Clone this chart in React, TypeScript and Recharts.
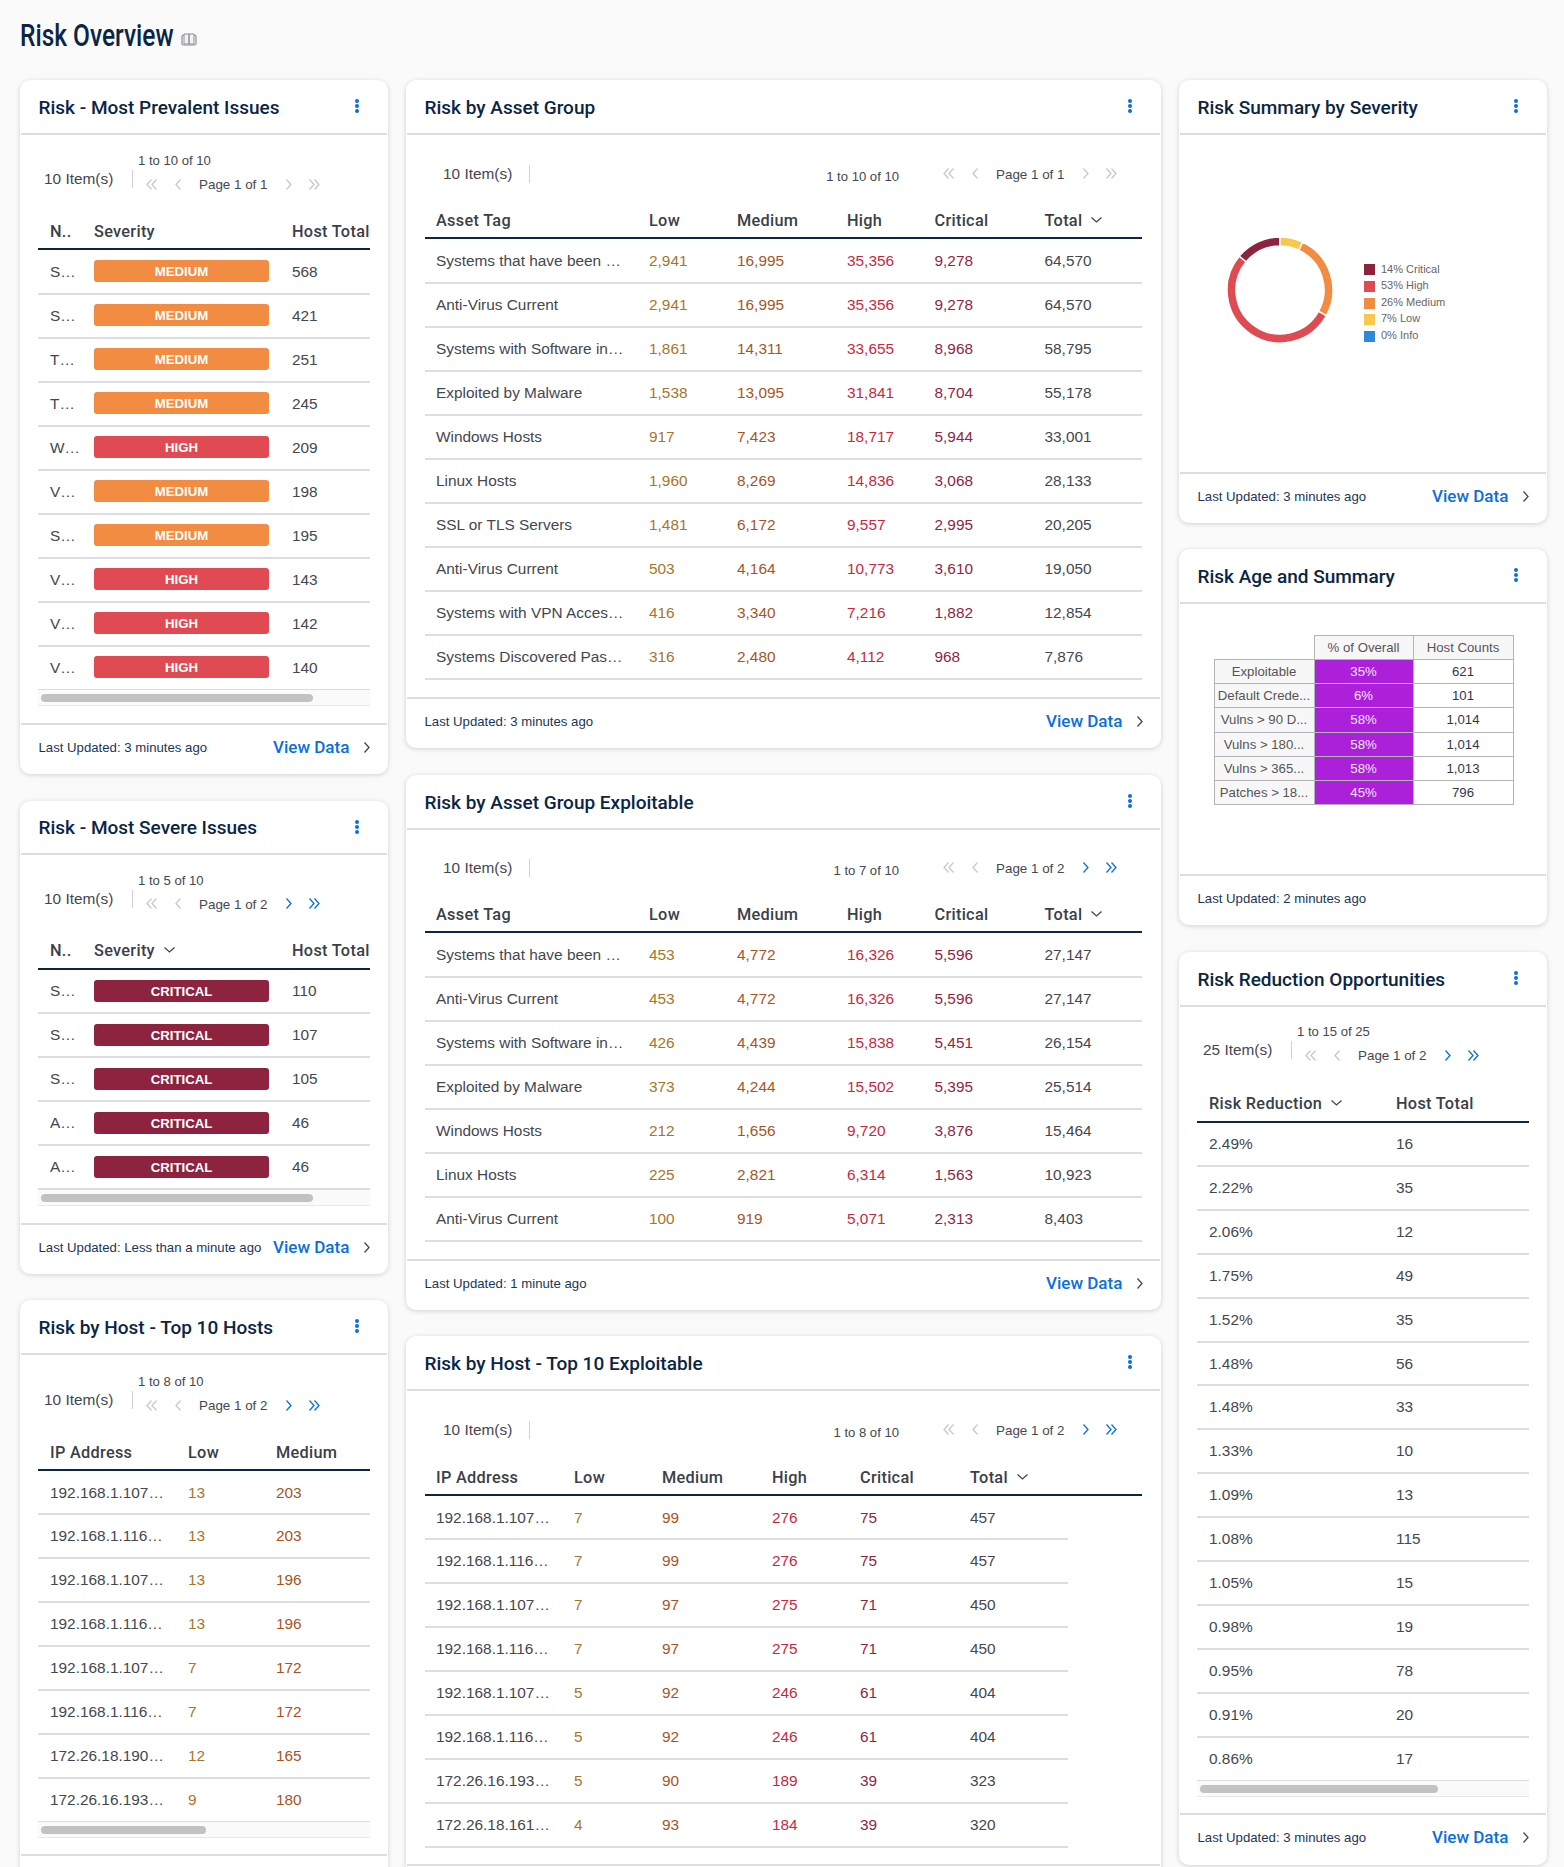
import React from "react";
import { PieChart, Pie, Legend } from "recharts";

// severity donut
const severityNames = ["Critical", "High", "Medium", "Low", "Info"];
const severityShares = [14, 53, 26, 7, 0];
const severityColors = ["#8e2340", "#e04b53", "#f28c42", "#f9c74f", "#2f88d8"];

// Risk - Most Prevalent Issues
const prevalentNames = ["S…", "S…", "T…", "T…", "W…", "V…", "S…", "V…", "V…", "V…"];
const prevalentSeverity = ["MEDIUM", "MEDIUM", "MEDIUM", "MEDIUM", "HIGH", "MEDIUM", "MEDIUM", "HIGH", "HIGH", "HIGH"];
const prevalentHosts = ["568", "421", "251", "245", "209", "198", "195", "143", "142", "140"];

// Risk - Most Severe Issues
const severeNames = ["S…", "S…", "S…", "A…", "A…"];
const severeSeverity = ["CRITICAL", "CRITICAL", "CRITICAL", "CRITICAL", "CRITICAL"];
const severeHosts = ["110", "107", "105", "46", "46"];

// Risk by Host - Top 10 Hosts
const hostIps = ["192.168.1.107…", "192.168.1.116…", "192.168.1.107…", "192.168.1.116…", "192.168.1.107…", "192.168.1.116…", "172.26.18.190…", "172.26.16.193…"];
const hostLow = ["13", "13", "13", "13", "7", "7", "12", "9"];
const hostMedium = ["203", "203", "196", "196", "172", "172", "165", "180"];

// Risk by Asset Group
const groupTags = ["Systems that have been …", "Anti-Virus Current", "Systems with Software in…", "Exploited by Malware", "Windows Hosts", "Linux Hosts", "SSL or TLS Servers", "Anti-Virus Current", "Systems with VPN Acces…", "Systems Discovered Pas…"];
const groupLow = ["2,941", "2,941", "1,861", "1,538", "917", "1,960", "1,481", "503", "416", "316"];
const groupMedium = ["16,995", "16,995", "14,311", "13,095", "7,423", "8,269", "6,172", "4,164", "3,340", "2,480"];
const groupHigh = ["35,356", "35,356", "33,655", "31,841", "18,717", "14,836", "9,557", "10,773", "7,216", "4,112"];
const groupCritical = ["9,278", "9,278", "8,968", "8,704", "5,944", "3,068", "2,995", "3,610", "1,882", "968"];
const groupTotal = ["64,570", "64,570", "58,795", "55,178", "33,001", "28,133", "20,205", "19,050", "12,854", "7,876"];

// Risk by Asset Group Exploitable
const exploitTags = ["Systems that have been …", "Anti-Virus Current", "Systems with Software in…", "Exploited by Malware", "Windows Hosts", "Linux Hosts", "Anti-Virus Current"];
const exploitLow = ["453", "453", "426", "373", "212", "225", "100"];
const exploitMedium = ["4,772", "4,772", "4,439", "4,244", "1,656", "2,821", "919"];
const exploitHigh = ["16,326", "16,326", "15,838", "15,502", "9,720", "6,314", "5,071"];
const exploitCritical = ["5,596", "5,596", "5,451", "5,395", "3,876", "1,563", "2,313"];
const exploitTotal = ["27,147", "27,147", "26,154", "25,514", "15,464", "10,923", "8,403"];

// Risk by Host - Top 10 Exploitable
const topIps = ["192.168.1.107…", "192.168.1.116…", "192.168.1.107…", "192.168.1.116…", "192.168.1.107…", "192.168.1.116…", "172.26.16.193…", "172.26.18.161…"];
const topLow = ["7", "7", "7", "7", "5", "5", "5", "4"];
const topMedium = ["99", "99", "97", "97", "92", "92", "90", "93"];
const topHigh = ["276", "276", "275", "275", "246", "246", "189", "184"];
const topCritical = ["75", "75", "71", "71", "61", "61", "39", "39"];
const topTotal = ["457", "457", "450", "450", "404", "404", "323", "320"];

// Risk Age and Summary
const ageLabels = ["Exploitable", "Default Crede...", "Vulns > 90 D...", "Vulns > 180...", "Vulns > 365...", "Patches > 18..."];
const agePercent = ["35%", "6%", "58%", "58%", "58%", "45%"];
const ageHosts = ["621", "101", "1,014", "1,014", "1,013", "796"];

// Risk Reduction Opportunities
const reductionShares = ["2.49%", "2.22%", "2.06%", "1.75%", "1.52%", "1.48%", "1.48%", "1.33%", "1.09%", "1.08%", "1.05%", "0.98%", "0.95%", "0.91%", "0.86%"];
const reductionHosts = ["16", "35", "12", "49", "35", "56", "33", "10", "13", "115", "15", "19", "78", "20", "17"];

const NAVY = "#0b2545";
const BODY = "#44474f";
const RULE = "#dcdce4";
const BLUE = "#0b6fdb";
const SANS = "'Liberation Sans', Arial, sans-serif";
const HEAD = "Roboto, sans-serif";
const LOW = "#a8752a";
const MEDIUM = "#a9541f";
const HIGH = "#c8283e";
const CRITICAL = "#92243f";
const badgeColors: Record<string, string> = { MEDIUM: "#f28c42", HIGH: "#e04b53", CRITICAL: "#8e2340" };

function T({ x, y, size = 15.4, color = BODY, font = SANS, weight = 400, spacing = 0, children }: any) {
  return (
    <span
      style={{
        position: "absolute",
        left: x,
        top: y,
        transform: "translateY(-50%)",
        whiteSpace: "nowrap",
        fontSize: size,
        color,
        fontFamily: font,
        fontWeight: weight,
        letterSpacing: spacing,
        lineHeight: 1.2,
      }}
    >
      {children}
    </span>
  );
}

function Rule({ x0, x1, y, color = RULE, h = 1.5 }: any) {
  return <div style={{ position: "absolute", left: x0, width: x1 - x0, top: Math.round(y), height: h, background: color }} />;
}

function Chevron({ x, y, dir = "right", color = "#44474f", double = false, size = 9 }: any) {
  const rot = { right: 0, left: 180, down: 90 }[dir as "right" | "left" | "down"];
  const w = double ? size + 6 : size;
  return (
    <svg
      width={w}
      height={size + 4}
      viewBox={`0 0 ${w} ${size + 4}`}
      style={{ position: "absolute", left: x - w / 2, top: y - (size + 4) / 2, transform: `rotate(${rot}deg)` }}
    >
      <path d={`M1.5 1.5 L${size / 2 + 1.5} ${(size + 4) / 2} L1.5 ${size + 2.5}`} fill="none" stroke={color} strokeWidth={1.3} />
      {double && <path d={`M6.5 1.5 L${size / 2 + 6.5} ${(size + 4) / 2} L6.5 ${size + 2.5}`} fill="none" stroke={color} strokeWidth={1.3} />}
    </svg>
  );
}

function Card({ x, right, top, bottom, footer, title, updated, link = true }: any) {
  const head = top + 53;
  return (
    <>
      <div
        style={{
          position: "absolute",
          left: x,
          top,
          width: right - x,
          height: bottom - top,
          background: "#fff",
          borderRadius: 10,
          boxShadow: "0 1px 5px rgba(0,0,0,0.17)",
        }}
      />
      <T x={x + 18.5} y={top + 27.5} size={19} color={NAVY} font={HEAD} weight={500}>
        {title}
      </T>
      {[0, 5, 10].map((d) => (
        <div
          key={d}
          style={{ position: "absolute", left: right - 33, top: top + 19 + d, width: 4, height: 4, borderRadius: 2, background: BLUE }}
        />
      ))}
      <Rule x0={x + 1} x1={right - 1} y={head - 0.5} />
      <Rule x0={x + 1} x1={right - 1} y={footer - 0.5} />
      <T x={x + 18.5} y={footer + 25} size={13.2} color="#1c3557">
        {updated}
      </T>
      {link && (
        <>
          <T x={right - 115} y={footer + 24} size={17} color={BLUE} font={HEAD} weight={500}>
            View Data
          </T>
          <Chevron x={right - 21} y={footer + 24} />
        </>
      )}
    </>
  );
}

function PagerIcons({ y, xs, enabled }: any) {
  const off = "#c6c8ce";
  return (
    <>
      <Chevron x={xs[0]} y={y} dir="left" double color={off} />
      <Chevron x={xs[1]} y={y} dir="left" color={off} />
      <Chevron x={xs[2]} y={y} color={enabled ? BLUE : off} />
      <Chevron x={xs[3]} y={y} double color={enabled ? BLUE : off} />
    </>
  );
}

function CompactPager({ x, head, items, range, page, enabled }: any) {
  return (
    <>
      <T x={x} y={head + 46} size={15.4}>{items}</T>
      <div style={{ position: "absolute", left: x + 88, top: head + 37, width: 1, height: 18, background: "#d0d0d6" }} />
      <T x={x + 94} y={head + 28} size={13.1}>{range}</T>
      <T x={x + 155} y={head + 52} size={13.4}>{page}</T>
      <PagerIcons y={head + 51} xs={[x + 106, x + 133, x + 245, x + 271.5]} enabled={enabled} />
    </>
  );
}

function WidePager({ head, items, range, rangeRight, page, enabled }: any) {
  return (
    <>
      <T x={443} y={head + 41} size={15.4}>{items}</T>
      <div style={{ position: "absolute", left: 529, top: head + 32, width: 1, height: 18, background: "#d0d0d6" }} />
      <span
        style={{
          position: "absolute",
          right: 1564 - rangeRight,
          top: head + 42.5,
          transform: "translateY(-50%)",
          fontSize: 13.1,
          color: BODY,
          fontFamily: SANS,
          whiteSpace: "nowrap",
        }}
      >
        {range}
      </span>
      <T x={996} y={head + 41.5} size={13.4}>{page}</T>
      <PagerIcons y={head + 40.5} xs={[947, 974, 1086, 1112.5]} enabled={enabled} />
    </>
  );
}

// columns: { label, x, values, color, sort, badge }
function Table({ x0, x1, rowX1, lineY, rowH = 44, columns }: any) {
  const rowCount = columns[0].values.length;
  const rows = Array.from({ length: rowCount }, (_, i) => i);
  return (
    <>
      {columns.map((c: any) => (
        <React.Fragment key={c.label}>
          <T x={c.x} y={lineY - 17.5} size={16.3} color="#3a4048" font={HEAD} weight={500} spacing={0.3}>
            {c.label}
          </T>
          {c.sort && <Chevron x={c.x + c.sort} y={lineY - 18} dir="down" />}
        </React.Fragment>
      ))}
      <Rule x0={x0} x1={x1} y={lineY - 1} color={NAVY} />
      {rows.map((i) => (
        <React.Fragment key={i}>
          {columns.map((c: any) =>
            c.badge ? (
              <div
                key={c.label}
                style={{
                  position: "absolute",
                  left: c.x,
                  top: lineY + rowH * i + 11,
                  width: 175,
                  height: 22,
                  lineHeight: "23px",
                  borderRadius: 3,
                  background: badgeColors[c.values[i]],
                  color: "#fff",
                  textAlign: "center",
                  fontFamily: SANS,
                  fontWeight: 700,
                  fontSize: 13.2,
                }}
              >
                {c.values[i]}
              </div>
            ) : (
              <T key={c.label} x={c.x} y={lineY + rowH * i + 22.5} color={c.color || BODY}>
                {c.values[i]}
              </T>
            )
          )}
          <Rule x0={x0} x1={rowX1 || x1} y={lineY + rowH * (i + 1) - 0.5} />
        </React.Fragment>
      ))}
    </>
  );
}

function Scrollbar({ x0, x1, y, thumbX0, thumbX1 }: any) {
  return (
    <>
      <div style={{ position: "absolute", left: x0, width: x1 - x0, top: y, height: 15, background: "#fafafa", borderBottom: "1px solid #e8e8e8" }} />
      <div style={{ position: "absolute", left: thumbX0, width: thumbX1 - thumbX0, top: y + 4, height: 8, borderRadius: 4, background: "#c2c2c2" }} />
    </>
  );
}

function SeverityDonut() {
  const slices = severityNames.map((name, i) => ({
    name: `${severityShares[i]}% ${name}`,
    value: severityShares[i],
    fill: severityColors[i],
  }));
  return (
    <div style={{ position: "absolute", left: 1179, top: 134 }}>
      <PieChart width={368} height={338} margin={{ top: 0, right: 0, bottom: 0, left: 0 }}>
        <Pie
          data={slices}
          dataKey="value"
          nameKey="name"
          cx={101}
          cy={156}
          innerRadius={44}
          outerRadius={53}
          startAngle={90}
          endAngle={450}
          stroke="#fff"
          strokeWidth={1.5}
          isAnimationActive={false}
        />
        <Legend
          layout="vertical"
          iconType="square"
          iconSize={11}
          itemSorter={null}
          formatter={(value: string) => <span style={{ color: "#666", fontSize: 11, fontFamily: SANS, marginLeft: 2 }}>{value}</span>}
          wrapperStyle={{ left: 185, top: 126.5, width: 120, lineHeight: "16.6px", fontSize: 11 }}
        />
      </PieChart>
    </div>
  );
}

function AgeTable() {
  const border = "1.5px solid #b4b4b8";
  const cell: React.CSSProperties = { border, height: 24.15, padding: 0, textAlign: "center", fontFamily: SANS, fontSize: 13.2, boxSizing: "border-box" };
  return (
    <table style={{ position: "absolute", left: 1213.5, top: 635, borderCollapse: "collapse", tableLayout: "fixed", width: 299 }}>
      <colgroup>
        <col style={{ width: 100 }} />
        <col style={{ width: 99 }} />
        <col style={{ width: 100 }} />
      </colgroup>
      <tbody>
        <tr>
          <td style={{ ...cell, border: "none" }} />
          <td style={{ ...cell, background: "#f7f7f7", color: "#555" }}>% of Overall</td>
          <td style={{ ...cell, background: "#f7f7f7", color: "#555" }}>Host Counts</td>
        </tr>
        {ageLabels.map((label, i) => (
          <tr key={i}>
            <td style={{ ...cell, background: "#f7f7f7", color: "#555" }}>{label}</td>
            <td style={{ ...cell, background: "#ac20d9", color: "#f4e6fa" }}>{agePercent[i]}</td>
            <td style={{ ...cell, background: "#fff", color: "#33364a" }}>{ageHosts[i]}</td>
          </tr>
        ))}
      </tbody>
    </table>
  );
}

function BookIcon() {
  return (
    <svg width={16} height={14} viewBox="0 0 16 14" style={{ position: "absolute", left: 181, top: 33 }}>
      <rect x={1} y={2} width={14} height={10} rx={1.5} fill="none" stroke="#8b8f96" strokeWidth={1.2} />
      <path d="M3 1 H8 V11 H3 Z M8 1 H13 V11 H8 Z" fill="#f2f2f2" stroke="#8b8f96" strokeWidth={1} />
    </svg>
  );
}

export default function App() {
  return (
    <div style={{ position: "absolute", left: 0, top: 0, width: 1564, height: 1867, overflow: "hidden", background: "#fafafa" }}>
      <span
        style={{
          position: "absolute",
          left: 19.5,
          top: 35,
          transform: "translateY(-50%) scaleX(0.765)",
          transformOrigin: "left center",
          fontFamily: HEAD,
          fontWeight: 500,
          fontSize: 32,
          color: NAVY,
          whiteSpace: "nowrap",
        }}
      >
        Risk Overview
      </span>
      <BookIcon />

      {/* left column */}
      <Card x={20} right={388} top={80} bottom={774} footer={723} title="Risk - Most Prevalent Issues" updated="Last Updated: 3 minutes ago" />
      <CompactPager x={44} head={133} items="10 Item(s)" range="1 to 10 of 10" page="Page 1 of 1" enabled={false} />
      <Table
        x0={38}
        x1={370}
        lineY={249}
        columns={[
          { label: "N..", x: 50, values: prevalentNames },
          { label: "Severity", x: 94, values: prevalentSeverity, badge: true },
          { label: "Host Total", x: 292, values: prevalentHosts },
        ]}
      />
      <Scrollbar x0={38} x1={370} y={690} thumbX0={41} thumbX1={313} />

      <Card x={20} right={388} top={800.5} bottom={1274} footer={1223} title="Risk - Most Severe Issues" updated="Last Updated: Less than a minute ago" />
      <CompactPager x={44} head={852.5} items="10 Item(s)" range="1 to 5 of 10" page="Page 1 of 2" enabled />
      <Table
        x0={38}
        x1={370}
        lineY={968.5}
        columns={[
          { label: "N..", x: 50, values: severeNames },
          { label: "Severity", x: 94, values: severeSeverity, badge: true, sort: 75 },
          { label: "Host Total", x: 292, values: severeHosts },
        ]}
      />
      <Scrollbar x0={38} x1={370} y={1190} thumbX0={41} thumbX1={313} />

      <Card x={20} right={388} top={1300} bottom={1900} footer={1854} title="Risk by Host - Top 10 Hosts" updated="" link={false} />
      <CompactPager x={44} head={1354} items="10 Item(s)" range="1 to 8 of 10" page="Page 1 of 2" enabled />
      <Table
        x0={38}
        x1={370}
        lineY={1470}
        rowH={43.9}
        columns={[
          { label: "IP Address", x: 50, values: hostIps },
          { label: "Low", x: 188, values: hostLow, color: LOW },
          { label: "Medium", x: 276, values: hostMedium, color: MEDIUM },
        ]}
      />
      <Scrollbar x0={38} x1={370} y={1822} thumbX0={41} thumbX1={206} />

      {/* middle column */}
      <Card x={406} right={1161} top={80} bottom={748} footer={697} title="Risk by Asset Group" updated="Last Updated: 3 minutes ago" />
      <WidePager head={133} items="10 Item(s)" range="1 to 10 of 10" rangeRight={899} page="Page 1 of 1" enabled={false} />
      <Table
        x0={425}
        x1={1142}
        lineY={238}
        columns={[
          { label: "Asset Tag", x: 436, values: groupTags },
          { label: "Low", x: 649, values: groupLow, color: LOW },
          { label: "Medium", x: 737, values: groupMedium, color: MEDIUM },
          { label: "High", x: 847, values: groupHigh, color: HIGH },
          { label: "Critical", x: 934.5, values: groupCritical, color: CRITICAL },
          { label: "Total", x: 1044.5, values: groupTotal, sort: 52 },
        ]}
      />

      <Card x={406} right={1161} top={775} bottom={1310} footer={1259} title="Risk by Asset Group Exploitable" updated="Last Updated: 1 minute ago" />
      <WidePager head={827} items="10 Item(s)" range="1 to 7 of 10" rangeRight={899} page="Page 1 of 2" enabled />
      <Table
        x0={425}
        x1={1142}
        lineY={932}
        columns={[
          { label: "Asset Tag", x: 436, values: exploitTags },
          { label: "Low", x: 649, values: exploitLow, color: LOW },
          { label: "Medium", x: 737, values: exploitMedium, color: MEDIUM },
          { label: "High", x: 847, values: exploitHigh, color: HIGH },
          { label: "Critical", x: 934.5, values: exploitCritical, color: CRITICAL },
          { label: "Total", x: 1044.5, values: exploitTotal, sort: 52 },
        ]}
      />

      <Card x={406} right={1161} top={1336} bottom={1900} footer={1864} title="Risk by Host - Top 10 Exploitable" updated="" link={false} />
      <WidePager head={1389} items="10 Item(s)" range="1 to 8 of 10" rangeRight={899} page="Page 1 of 2" enabled />
      <Table
        x0={425}
        x1={1142}
        rowX1={1068}
        lineY={1495}
        rowH={43.9}
        columns={[
          { label: "IP Address", x: 436, values: topIps },
          { label: "Low", x: 574, values: topLow, color: LOW },
          { label: "Medium", x: 662, values: topMedium, color: MEDIUM },
          { label: "High", x: 772, values: topHigh, color: HIGH },
          { label: "Critical", x: 860, values: topCritical, color: CRITICAL },
          { label: "Total", x: 970, values: topTotal, sort: 52 },
        ]}
      />

      {/* right column */}
      <Card x={1179} right={1547} top={80} bottom={523} footer={472} title="Risk Summary by Severity" updated="Last Updated: 3 minutes ago" />
      <SeverityDonut />

      <Card x={1179} right={1547} top={549} bottom={925} footer={874} title="Risk Age and Summary" updated="Last Updated: 2 minutes ago" link={false} />
      <AgeTable />

      <Card x={1179} right={1547} top={952} bottom={1865} footer={1813} title="Risk Reduction Opportunities" updated="Last Updated: 3 minutes ago" />
      <CompactPager x={1203} head={1004} items="25 Item(s)" range="1 to 15 of 25" page="Page 1 of 2" enabled />
      <Table
        x0={1197}
        x1={1529}
        lineY={1121.5}
        rowH={43.9}
        columns={[
          { label: "Risk Reduction", x: 1209, values: reductionShares, sort: 127 },
          { label: "Host Total", x: 1396, values: reductionHosts },
        ]}
      />
      <Scrollbar x0={1197} x1={1529} y={1781} thumbX0={1200} thumbX1={1438} />
    </div>
  );
}
